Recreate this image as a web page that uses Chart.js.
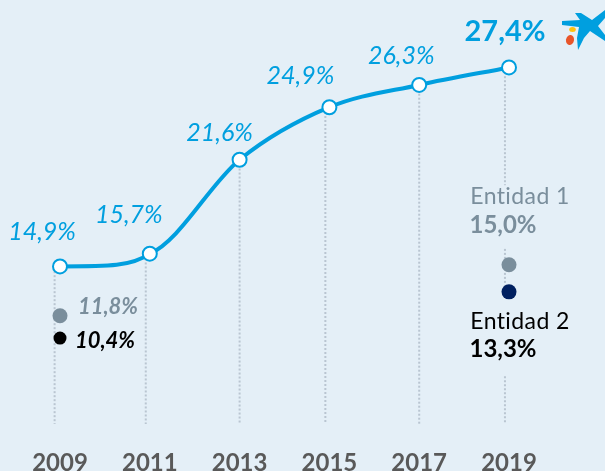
<!DOCTYPE html>
<html><head><meta charset="utf-8">
<script src="https://cdn.jsdelivr.net/npm/chart.js@4"></script>
<style>html,body{margin:0;padding:0;background:#E4EFF7}#w{width:605px;height:471px}canvas{display:block}</style>
</head><body><div id="w"><canvas id="c"></canvas></div>
<script>
const years=[2009,2011,2013,2015,2017,2019];
const caixa=[14.9,15.7,21.6,24.9,26.3,27.4];
const entidad1Years=[2009,2019];
const entidad1=[11.8,15.0];
const entidad2Years=[2009,2019];
const entidad2=[10.4,13.3];
const entidad1Name='Entidad 1';
const entidad2Name='Entidad 2';
const dropX=[2008.88,2010.91,2013,2014.91,2017,2018.91];
const dropRuns=[[[14.6,5]],[[15.4,5]],[[21.3,5]],[[24.6,5]],[[26,5]],[[27.1,20],[16,13.6],[8,5]]];
const pct=v=>v.toFixed(1).replace('.',',')+'%';
const F='Lato, Carlito, sans-serif';
const BLUE='#009FDF',GREY='#7A8E9C',NAVY='#002060';

const drops=[];
dropRuns.forEach((runs,i)=>runs.forEach(r=>drops.push({
  type:'line',data:r.map(v=>({x:dropX[i],y:v})),order:5,clip:false,
  borderColor:'#B9C5D1',borderWidth:2,borderDash:[2,2],pointRadius:0,fill:false})));
const mainIndex=drops.length;

const texts={
 id:'texts',
 beforeDatasetDraw(ch,args){
  if(args.index!==mainIndex)return;
  // the reference curve leaves its first point flat
  const p=args.meta.data;
  p[0].cp2y=p[0].y; p[0].cp2x=p[0].x+(p[1].x-p[0].x)*0.55;
  p[1].cp1x=p[1].x-(p[1].x-p[0].x)*0.2; p[1].cp1y=p[0].y;
 },
 afterDatasetsDraw(ch){
  const c=ch.ctx,X=ch.scales.x,Y=ch.scales.y;
  const t=(s,x,y,font,col,ls)=>{c.font=font;c.fillStyle=col;c.textAlign='center';c.textBaseline='middle';c.letterSpacing=ls||'0px';c.fillText(s,x,y);c.letterSpacing='0px';};
  const it='italic 25px '+F;
  const off=[[-18,-34],[-21,-39],[-20,-27],[-29,-31],[-18,-29]];
  off.forEach((o,i)=>t(pct(caixa[i]),X.getPixelForValue(years[i])+o[0],Y.getPixelForValue(caixa[i])+o[1],it,BLUE));
  t(pct(caixa[5]),X.getPixelForValue(2019)-4,Y.getPixelForValue(caixa[5])-36,'bold 29px '+F,BLUE);
  t(pct(entidad1[0]),X.getPixelForValue(2009)+48,Y.getPixelForValue(entidad1[0])-9,'italic bold 22px '+F,GREY);
  t(pct(entidad2[0]),X.getPixelForValue(2009)+45,Y.getPixelForValue(entidad2[0])+3,'italic bold 22px '+F,'#000');
  const x19=X.getPixelForValue(2019);
  t(entidad1Name,x19+11,Y.getPixelForValue(entidad1[1])-68,'23px '+F,GREY,'0.4px');
  t(pct(entidad1[1]),x19-6,Y.getPixelForValue(entidad1[1])-40,'bold 24px '+F,GREY);
  t(entidad2Name,x19+11,Y.getPixelForValue(entidad2[1])+30,'23px '+F,'#000','0.4px');
  t(pct(entidad2[1]),x19-6,Y.getPixelForValue(entidad2[1])+57,'bold 24px '+F,'#000');
  // logo
  c.save();c.fillStyle=BLUE;c.beginPath();
  c.moveTo(562,21);c.lineTo(580,20);c.lineTo(575,13);c.lineTo(581,13);c.lineTo(592,20);c.lineTo(605,10);c.lineTo(605,18);c.lineTo(598,26);c.lineTo(605,35);c.lineTo(605,41);
  c.lineTo(590,31);c.lineTo(584,38);c.lineTo(578,50);c.lineTo(577,38);c.lineTo(579,27);c.lineTo(562,25);c.closePath();c.fill();
  c.fillStyle='#FFC20E';c.beginPath();c.ellipse(572.5,29.5,3.3,2.5,0,0,7);c.fill();
  c.fillStyle='#E8552A';c.beginPath();c.ellipse(570,40,4,5,0.2,0,7);c.fill();
  c.restore();
 }
};

new Chart(document.getElementById('c'),{
 type:'line',
 data:{datasets:[
  ...drops,
  {data:years.map((x,i)=>({x,y:caixa[i]})),order:1,clip:false,borderColor:BLUE,borderWidth:4,cubicInterpolationMode:'monotone',
   pointRadius:7,pointBorderWidth:2,pointBackgroundColor:'#fff',pointBorderColor:BLUE,fill:false},
  {data:entidad1Years.map((x,i)=>({x,y:entidad1[i]})),order:2,clip:false,showLine:false,pointRadius:7.5,pointBorderWidth:0,pointBackgroundColor:GREY},
  {data:entidad2Years.map((x,i)=>({x,y:entidad2[i]})),order:2,clip:false,showLine:false,pointRadius:[6.5,7.5],pointBorderWidth:0,pointBackgroundColor:['#000',NAVY]}
 ]},
 options:{
  responsive:true,maintainAspectRatio:false,animation:false,
  layout:{padding:{left:60,right:96,top:0,bottom:0}},
  plugins:{legend:{display:false},tooltip:{enabled:false}},
  scales:{
   x:{type:'linear',min:2009,max:2019,afterFit(s){s.height=47;},grid:{display:false},border:{display:false},
      afterBuildTicks(s){s.ticks=years.map(v=>({value:v}));},
      ticks:{autoSkip:false,maxRotation:0,padding:17,color:'#595959',font:{family:F,weight:'bold',size:24},callback:v=>String(v)}},
   y:{min:5,max:31.07,display:false}
  }
 },
 plugins:[texts]
});
</script></body></html>
